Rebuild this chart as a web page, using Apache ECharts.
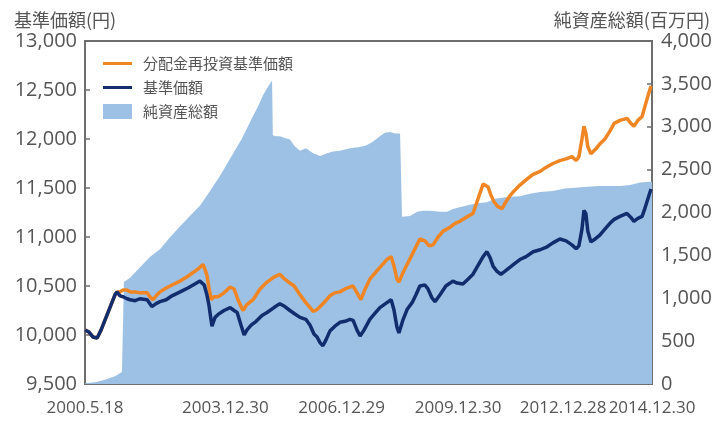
<!DOCTYPE html>
<html>
<head>
<meta charset="utf-8">
<script src="https://cdn.jsdelivr.net/npm/echarts@6/dist/echarts.min.js"></script>
<style>
html,body{margin:0;padding:0;background:#fff;}
#chart{width:719px;height:421px;}
</style>
</head>
<body>
<div id="chart"></div>
<script>
// Tick labels and their positions (decimal years)
const tickLabels = ['2000.5.18','2003.12.30','2006.12.29','2009.12.30','2012.12.28','2014.12.30'];
const tickYears  = [2000.377, 2003.995, 2006.992, 2009.995, 2012.989, 2014.995];

// 基準価額 (円) — dates as decimal years
const navDates = [2000.38,2000.48,2000.58,2000.69,2000.79,2000.92,2001.05,2001.15,2001.20,2001.28,2001.36,2001.46,2001.54,2001.67,2001.79,2001.98,2002.10,2002.21,2002.31,2002.47,2002.62,2002.83,2003.03,2003.21,2003.34,2003.45,2003.52,2003.57,2003.65,2003.73,2003.81,2003.96,2004.12,2004.22,2004.30,2004.40,2004.48,2004.55,2004.66,2004.79,2004.94,2005.07,2005.25,2005.40,2005.53,2005.66,2005.77,2005.92,2006.07,2006.18,2006.28,2006.36,2006.44,2006.51,2006.59,2006.69,2006.82,2006.95,2007.08,2007.21,2007.29,2007.39,2007.47,2007.57,2007.72,2007.85,2007.98,2008.16,2008.27,2008.34,2008.42,2008.47,2008.58,2008.68,2008.81,2008.91,2009.01,2009.14,2009.22,2009.32,2009.40,2009.53,2009.68,2009.79,2009.86,2009.97,2010.12,2010.25,2010.38,2010.51,2010.64,2010.74,2010.82,2010.90,2011.00,2011.10,2011.20,2011.33,2011.46,2011.59,2011.75,2011.93,2012.11,2012.29,2012.44,2012.62,2012.78,2012.93,2013.04,2013.11,2013.19,2013.24,2013.29,2013.34,2013.42,2013.53,2013.65,2013.78,2013.91,2014.02,2014.17,2014.35,2014.45,2014.53,2014.63,2014.74,2014.81,2014.89,2014.97];
const navValues = [10050,10030,9980,9970,10050,10180,10310,10410,10440,10400,10390,10370,10360,10350,10370,10360,10290,10320,10340,10360,10400,10440,10480,10520,10550,10510,10410,10310,10090,10180,10210,10250,10280,10250,10230,10100,10000,10050,10100,10140,10200,10230,10280,10320,10290,10250,10220,10180,10160,10100,10010,9980,9920,9890,9950,10040,10090,10130,10140,10160,10150,10050,9990,10050,10160,10220,10280,10330,10360,10260,10080,10020,10160,10260,10330,10410,10500,10510,10470,10380,10340,10410,10500,10530,10550,10530,10520,10570,10620,10710,10800,10850,10790,10700,10650,10620,10650,10690,10730,10770,10800,10850,10870,10900,10940,10980,10960,10920,10880,10910,11080,11270,11240,11060,10950,10980,11020,11080,11140,11180,11210,11240,11200,11160,11190,11210,11290,11390,11490];

// 分配金再投資基準価額 (円)
const reinvDates = [2000.38,2000.48,2000.58,2000.69,2000.79,2000.92,2001.05,2001.15,2001.20,2001.28,2001.36,2001.46,2001.54,2001.67,2001.79,2001.98,2002.05,2002.13,2002.21,2002.31,2002.47,2002.62,2002.83,2003.03,2003.21,2003.34,2003.42,2003.47,2003.52,2003.57,2003.63,2003.70,2003.81,2003.96,2004.12,2004.22,2004.32,2004.45,2004.55,2004.71,2004.89,2005.07,2005.25,2005.40,2005.53,2005.66,2005.77,2005.92,2006.07,2006.18,2006.26,2006.36,2006.44,2006.56,2006.69,2006.82,2006.95,2007.08,2007.21,2007.29,2007.39,2007.49,2007.60,2007.72,2007.85,2007.98,2008.16,2008.27,2008.34,2008.42,2008.47,2008.58,2008.68,2008.81,2008.91,2009.01,2009.14,2009.25,2009.35,2009.48,2009.61,2009.79,2009.92,2010.04,2010.20,2010.38,2010.51,2010.64,2010.77,2010.84,2010.92,2011.02,2011.13,2011.23,2011.33,2011.44,2011.59,2011.77,2011.93,2012.11,2012.26,2012.44,2012.62,2012.80,2012.93,2013.04,2013.11,2013.19,2013.24,2013.29,2013.34,2013.42,2013.55,2013.65,2013.78,2013.91,2014.02,2014.17,2014.35,2014.45,2014.53,2014.63,2014.74,2014.81,2014.89,2014.97];
const reinvValues = [10050,10030,9980,9970,10050,10180,10310,10410,10440,10440,10460,10460,10440,10440,10430,10430,10390,10360,10400,10440,10480,10510,10550,10600,10650,10690,10720,10670,10610,10490,10360,10390,10390,10430,10490,10470,10360,10250,10310,10360,10470,10540,10590,10620,10570,10530,10500,10410,10330,10280,10240,10260,10290,10340,10400,10430,10440,10470,10490,10500,10430,10360,10470,10570,10630,10690,10770,10800,10710,10570,10540,10640,10720,10820,10900,10980,10960,10910,10920,11000,11060,11100,11140,11160,11200,11240,11390,11540,11510,11430,11360,11310,11290,11360,11420,11470,11530,11590,11640,11670,11710,11750,11780,11800,11820,11780,11820,12000,12130,12060,11920,11850,11900,11950,12000,12080,12160,12190,12210,12160,12130,12190,12230,12330,12440,12540];

// 純資産総額 (百万円)
const assetDates = [2000.38,2000.64,2000.89,2001.15,2001.33,2001.36,2001.38,2001.54,2001.79,2002.05,2002.31,2002.57,2002.83,2003.08,2003.34,2003.60,2003.86,2004.12,2004.42,2004.68,2004.84,2004.97,2005.10,2005.20,2005.22,2005.30,2005.40,2005.53,2005.66,2005.79,2005.92,2006.07,2006.26,2006.44,2006.62,2006.77,2006.95,2007.21,2007.42,2007.62,2007.78,2007.98,2008.11,2008.24,2008.37,2008.50,2008.55,2008.76,2008.94,2009.09,2009.27,2009.53,2009.71,2009.86,2010.04,2010.30,2010.56,2010.74,2010.95,2011.26,2011.59,2011.85,2012.11,2012.44,2012.75,2013.01,2013.32,2013.65,2013.91,2014.17,2014.43,2014.69,2014.94,2014.995];
const assetValues = [10,20,50,90,140,140,1190,1240,1360,1480,1570,1710,1840,1960,2080,2250,2430,2630,2860,3100,3240,3370,3470,3540,2900,2890,2890,2870,2850,2770,2720,2750,2690,2660,2690,2710,2720,2750,2760,2780,2820,2890,2930,2940,2920,2920,1950,1960,2010,2020,2020,2010,2010,2040,2060,2090,2110,2120,2160,2180,2190,2220,2240,2250,2280,2290,2300,2310,2310,2310,2320,2350,2360,2360];

const pair = (xs, ys) => xs.map((x, i) => [x, ys[i]]);

const textColor = '#555';
const frameColor = '#6e6e6e';
const numFont = "'Open Sans', sans-serif";
const cjkFont = "'Noto Sans CJK JP', sans-serif";
const lineIcon = 'path://M0,0L30,0M0,6L30,6L30,9L0,9ZM0,15L30,15';

const chart = echarts.init(document.getElementById('chart'), null, {renderer: 'canvas'});
chart.setOption({
  animation: false,
  backgroundColor: '#fff',
  title: [
    {text: '基準価額(円)', left: 9, top: 6, textStyle: {fontSize: 18, fontWeight: 'normal', color: textColor, fontFamily: cjkFont}},
    {text: '純資産総額(百万円)', right: 4, top: 6, textStyle: {fontSize: 18, fontWeight: 'normal', color: textColor, fontFamily: cjkFont}}
  ],
  legend: {
    orient: 'vertical',
    left: 98,
    top: 51,
    itemWidth: 29,
    itemHeight: 15,
    itemGap: 9,
    textStyle: {fontSize: 15, color: textColor, fontFamily: cjkFont, padding: [0,0,0,6]},
    data: [
      {name: '分配金再投資基準価額', icon: lineIcon},
      {name: '基準価額', icon: lineIcon},
      {name: '純資産総額', icon: 'rect'}
    ]
  },
  grid: {
    left: 85, right: 67, top: 41, bottom: 37,
    show: true, borderColor: frameColor, borderWidth: 2, backgroundColor: 'transparent'
  },
  xAxis: {
    type: 'value',
    min: tickYears[0],
    max: tickYears[tickYears.length - 1],
    splitLine: {show: false},
    axisLine: {show: false},
    axisTick: {show: true, inside: true, length: 5, customValues: tickYears.slice(1, -1), lineStyle: {color: frameColor, width: 1.5}},
    axisLabel: {
      customValues: tickYears,
      showMinLabel: true,
      showMaxLabel: true,
      hideOverlap: false,
      margin: 16,
      color: textColor,
      fontSize: 17,
      fontFamily: numFont,
      formatter: function (v) {
        let idx = 0, best = Infinity;
        tickYears.forEach((t, i) => { const d = Math.abs(t - v); if (d < best) { best = d; idx = i; } });
        const s = tickLabels[idx];
        return idx === 4 ? '{l|' + s + '}' : s;
      },
      rich: {l: {fontSize: 17, color: textColor, fontFamily: numFont, padding: [0, 22, 0, 0]}}
    }
  },
  yAxis: [
    {
      type: 'value', min: 9500, max: 13000, interval: 500,
      splitLine: {show: false},
      axisLine: {show: false},
      axisTick: {show: true, inside: true, length: 5, lineStyle: {color: frameColor, width: 1.5}},
      axisLabel: {margin: 8, color: textColor, fontSize: 20, fontFamily: numFont,
        formatter: v => v.toLocaleString('en-US')}
    },
    {
      type: 'value', min: 0, max: 4000, interval: 500, position: 'right',
      splitLine: {show: false},
      axisLine: {show: false},
      axisTick: {show: true, inside: true, length: 5, lineStyle: {color: frameColor, width: 1.5}},
      axisLabel: {margin: 9, color: textColor, fontSize: 20, fontFamily: numFont,
        formatter: v => v.toLocaleString('en-US')}
    }
  ],
  series: [
    {
      name: '純資産総額', type: 'line', yAxisIndex: 1, symbol: 'none', smooth: false,
      data: pair(assetDates, assetValues),
      itemStyle: {color: '#9dc1e5'},
      lineStyle: {width: 0, color: '#9dc1e5'},
      areaStyle: {color: '#9dc1e5', opacity: 1},
      z: 1
    },
    {
      name: '分配金再投資基準価額', type: 'line', yAxisIndex: 0, symbol: 'none', smooth: false,
      data: pair(reinvDates, reinvValues),
      itemStyle: {color: '#f08524'},
      lineStyle: {width: 3.5, color: '#f08524'},
      z: 2
    },
    {
      name: '基準価額', type: 'line', yAxisIndex: 0, symbol: 'none', smooth: false,
      data: pair(navDates, navValues),
      itemStyle: {color: '#112d6e'},
      lineStyle: {width: 3.5, color: '#112d6e'},
      z: 3
    }
  ]
});
</script>
</body>
</html>
